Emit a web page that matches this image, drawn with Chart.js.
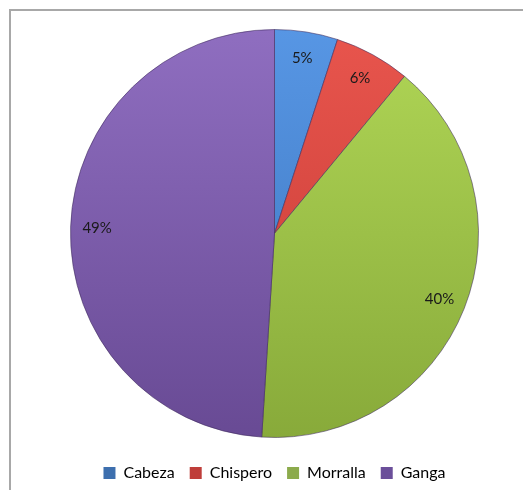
<!DOCTYPE html>
<html>
<head>
<meta charset="utf-8">
<script src="https://cdn.jsdelivr.net/npm/chart.js@4"></script>
<style>
  html, body { margin: 0; padding: 0; background: #fff; overflow: hidden; }
  #wrap { position: relative; width: 523px; height: 490px; }
  #frame { position: absolute; left: 9px; top: 9px; width: 600px; height: 600px; border-left: 2px solid #a8a8a8; border-top: 2px solid #a8a8a8; }
  #chart { position: absolute; left: 0; top: 0; }
</style>
</head>
<body>
<div id="wrap">
  <div id="frame"></div>
  <canvas id="chart" width="523" height="490"></canvas>
</div>
<script>
// --- données ---
const categorias = ['Cabeza', 'Chispero', 'Morralla', 'Ganga'];
const porcentajes = [5, 6, 40, 49];
const coloresClaros = ['#5796e4', '#e8554d', '#b0d656', '#8f6ec0'];
const coloresOscuros = ['#3c74bc', '#c43a34', '#88aa3a', '#684a94'];
const coloresLeyenda = ['#3d6fae', '#bf3e3a', '#8cab4c', '#6b4f9a'];

// dégradé vertical pour chaque part, clair en haut, sombre en bas
function degradado(ctx, i) {
  const area = ctx.chart.chartArea;
  if (!area) return coloresClaros[i];
  const g = ctx.chart.ctx.createLinearGradient(0, area.top, 0, area.bottom);
  g.addColorStop(0, coloresClaros[i]);
  g.addColorStop(1, coloresOscuros[i]);
  return g;
}

// étiquettes % dans les parts
const etiquetas = {
  id: 'etiquetas',
  afterDatasetsDraw(chart) {
    const c = chart.ctx;
    const meta = chart.getDatasetMeta(0);
    c.save();
    c.font = '15px Lato, "Open Sans", sans-serif';
    c.fillStyle = '#1a1a1a';
    c.textAlign = 'center';
    c.textBaseline = 'middle';
    meta.data.forEach((arc, i) => {
      const p = arc.getProps(['x', 'y', 'startAngle', 'endAngle', 'outerRadius'], true);
      const a = (p.startAngle + p.endAngle) / 2;
      const r = p.outerRadius * 0.87;
      c.fillText(porcentajes[i] + '%', p.x + Math.cos(a) * r, p.y + Math.sin(a) * r);
    });
    c.restore();
  }
};

// descend la légende sans toucher à la zone du camembert
const bajarLeyenda = {
  id: 'bajarLeyenda',
  afterLayout(chart) {
    const lg = chart.legend;
    if (!lg) return;
    lg.top += 12;
    lg.bottom += 12;
  }
};

new Chart(document.getElementById('chart'), {
  type: 'pie',
  data: {
    labels: categorias,
    datasets: [{
      data: porcentajes,
      backgroundColor: ctx => degradado(ctx, ctx.dataIndex),
      borderColor: 'rgba(60, 40, 90, 0.55)',
      borderWidth: 1
    }]
  },
  options: {
    responsive: false,
    animation: false,
    layout: { padding: { top: 29, bottom: 11, left: 70, right: 44 } },
    plugins: {
      legend: {
        position: 'bottom',
        labels: {
          boxWidth: 12,
          boxHeight: 12,
          padding: 15,
          color: '#1a1a1a',
          font: { family: 'Lato, "Open Sans", sans-serif', size: 16 },
          generateLabels(chart) {
            return categorias.map((nombre, i) => ({
              text: nombre,
              fillStyle: coloresLeyenda[i],
              strokeStyle: coloresLeyenda[i],
              lineWidth: 0,
              index: i
            }));
          }
        }
      },
      tooltip: { enabled: false }
    }
  },
  plugins: [etiquetas, bajarLeyenda]
});
</script>
</body>
</html>
